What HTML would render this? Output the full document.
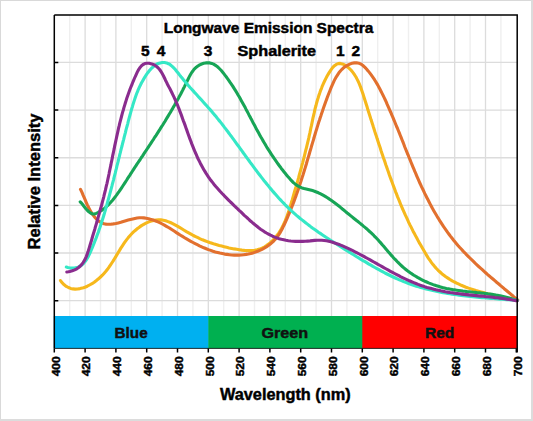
<!DOCTYPE html><html><head><meta charset="utf-8"><style>html,body{margin:0;padding:0;background:#fff;}body{width:533px;height:421px;overflow:hidden;position:relative;}svg{position:absolute;left:0;top:0;}</style></head><body>
<svg width="533" height="421" viewBox="0 0 533 421" font-family="Liberation Sans, sans-serif" font-weight="bold">
<style>text{stroke:currentColor;stroke-width:0.45px;}</style>
<rect x="0" y="0" width="533" height="421" fill="#fff"/>
<rect x="0.5" y="0.5" width="531" height="419" fill="none" stroke="#d9d9d9" stroke-width="1"/>
<rect x="531" y="0" width="2" height="421" fill="#dcdcdc"/><rect x="0" y="419" width="533" height="2" fill="#dcdcdc"/>
<path d="M69.70,15.0V316M100.50,15.0V316M131.30,15.0V316M162.10,15.0V316M192.90,15.0V316M223.70,15.0V316M254.50,15.0V316M285.30,15.0V316M316.10,15.0V316M346.90,15.0V316M377.70,15.0V316M408.50,15.0V316M439.30,15.0V316M470.10,15.0V316M500.90,15.0V316" stroke="#efefef" stroke-width="1.4" fill="none"/>
<path d="M85.10,15.0V316M115.90,15.0V316M146.70,15.0V316M177.50,15.0V316M208.30,15.0V316M239.10,15.0V316M269.90,15.0V316M300.70,15.0V316M331.50,15.0V316M362.30,15.0V316M393.10,15.0V316M423.90,15.0V316M454.70,15.0V316M485.50,15.0V316M54.3,300.66H517.2M54.3,253.02H517.2M54.3,205.38H517.2M54.3,157.74H517.2M54.3,110.10H517.2M54.3,62.46H517.2" stroke="#dcdcdc" stroke-width="1.3" fill="none"/>
<rect x="53.80" y="316" width="155.00" height="32.4" fill="#00b0f0"/>
<rect x="208.30" y="316" width="155.00" height="32.4" fill="#00b050"/>
<rect x="362.30" y="316" width="154.90" height="32.4" fill="#ff0000"/>
<path d="M60.5,280.6L61.4,281.8L62.3,282.9L64.2,284.8L66.3,286.4L68.4,287.5L70.6,288.4L72.9,288.9L75.2,289.1L77.6,289.0L80.0,288.6L82.4,288.1L84.9,287.2L87.3,286.2L89.6,285.0L92.0,283.7L94.2,282.2L96.4,280.5L98.5,278.8L100.5,277.0L102.4,275.2L104.2,273.2L105.9,271.3L107.5,269.3L109.0,267.2L110.4,265.1L111.8,263.0L113.2,260.9L114.5,258.7L115.8,256.6L117.1,254.4L118.4,252.2L119.7,250.1L121.0,247.9L122.4,245.8L123.8,243.7L125.2,241.6L126.7,239.6L128.3,237.6L129.9,235.7L131.7,233.8L133.5,231.9L135.5,230.2L137.5,228.5L139.7,226.9L141.9,225.4L144.2,224.1L146.5,222.9L148.9,221.9L151.3,221.1L153.7,220.4L156.1,220.0L158.5,219.8L160.9,219.9L163.3,220.2L165.7,220.8L168.0,221.6L170.4,222.5L172.7,223.6L175.0,224.8L177.3,226.1L179.5,227.4L181.8,228.8L184.1,230.2L186.4,231.6L188.7,232.9L191.0,234.2L193.3,235.5L195.6,236.6L197.9,237.7L200.2,238.8L202.5,239.8L204.9,240.7L207.2,241.6L209.6,242.5L212.0,243.3L214.4,244.1L216.8,244.8L219.2,245.5L221.7,246.1L224.1,246.7L226.6,247.3L229.1,247.9L231.6,248.4L234.2,248.9L236.7,249.3L239.3,249.7L241.9,250.1L244.5,250.4L247.1,250.6L249.7,250.6L252.2,250.5L254.7,250.3L257.2,249.8L259.6,249.1L262.0,248.2L264.3,247.0L266.5,245.6L268.6,244.1L270.6,242.4L272.5,240.6L274.3,238.8L275.9,236.8L277.5,234.8L278.9,232.8L280.3,230.7L281.5,228.5L282.7,226.3L283.8,224.0L284.9,221.7L285.8,219.3L286.8,216.9L287.6,214.5L288.5,212.1L289.3,209.6L290.1,207.1L290.8,204.6L291.5,202.1L292.3,199.7L293.0,197.2L293.7,194.7L294.4,192.2L295.1,189.7L295.9,187.2L296.6,184.8L297.3,182.3L298.0,179.8L298.7,177.4L299.3,174.9L300.0,172.4L300.7,170.0L301.4,167.5L302.0,165.0L302.7,162.6L303.3,160.1L304.0,157.6L304.6,155.2L305.2,152.7L305.8,150.2L306.4,147.8L307.0,145.3L307.6,142.8L308.2,140.3L308.8,137.9L309.3,135.4L309.9,132.9L310.4,130.4L310.9,127.9L311.5,125.4L312.0,122.9L312.5,120.4L313.0,117.9L313.6,115.4L314.2,112.9L314.7,110.4L315.3,107.9L316.0,105.5L316.6,103.0L317.3,100.5L318.1,98.0L318.8,95.6L319.7,93.1L320.5,90.7L321.5,88.3L322.4,85.8L323.5,83.4L324.6,81.0L325.8,78.6L327.0,76.3L328.4,73.9L329.8,71.6L331.3,69.4L332.8,67.4L334.5,65.7L336.3,64.4L338.2,63.6L340.2,63.4L342.3,63.9L344.5,64.9L346.5,66.2L348.5,67.7L350.2,69.3L351.9,71.1L353.4,73.1L354.8,75.2L356.1,77.3L357.3,79.6L358.5,82.0L359.5,84.4L360.5,86.9L361.4,89.4L362.3,92.0L363.2,94.6L364.0,97.2L364.8,99.7L365.6,102.3L366.4,104.8L367.2,107.3L367.9,109.8L368.7,112.3L369.5,114.7L370.3,117.2L371.0,119.6L371.8,122.0L372.6,124.4L373.3,126.8L374.1,129.2L374.8,131.5L375.6,133.9L376.4,136.3L377.1,138.6L377.9,141.0L378.7,143.4L379.5,145.7L380.3,148.1L381.0,150.5L381.8,152.9L382.6,155.3L383.4,157.7L384.3,160.1L385.1,162.5L385.9,165.0L386.8,167.4L387.6,169.8L388.5,172.3L389.3,174.7L390.2,177.2L391.1,179.6L392.0,182.0L392.9,184.5L393.8,186.9L394.7,189.3L395.6,191.8L396.6,194.2L397.5,196.6L398.5,199.0L399.5,201.4L400.4,203.7L401.4,206.1L402.4,208.5L403.5,210.8L404.5,213.1L405.5,215.4L406.6,217.7L407.7,220.0L408.7,222.3L409.8,224.6L411.0,226.9L412.1,229.1L413.2,231.4L414.4,233.6L415.6,235.9L416.8,238.1L418.0,240.4L419.2,242.6L420.5,244.8L421.8,247.1L423.1,249.3L424.4,251.6L425.7,253.8L427.1,256.1L428.5,258.3L430.0,260.4L431.5,262.6L433.0,264.6L434.7,266.6L436.4,268.5L438.1,270.3L440.0,272.0L441.8,273.7L443.8,275.2L445.8,276.7L447.9,278.1L450.0,279.5L452.2,280.8L454.4,282.0L456.6,283.1L458.9,284.2L461.3,285.3L463.6,286.2L466.0,287.2L468.5,288.1L470.9,288.9L473.4,289.7L475.9,290.5L478.4,291.2L480.9,291.9L483.4,292.6L485.9,293.3L488.5,293.9L491.0,294.5L493.5,295.1L496.0,295.7L498.6,296.3L501.1,296.9L503.5,297.4L506.0,298.0L508.5,298.6L510.9,299.2L513.3,299.7L515.7,300.3L516.8,300.6" stroke="#f6b81c" stroke-width="3.1" fill="none" stroke-linejoin="round" stroke-linecap="round"/>
<path d="M80.5,189.3L81.4,191.2L82.3,193.2L83.2,195.4L84.2,197.6L85.2,199.9L86.2,202.3L87.2,204.6L88.4,207.0L89.5,209.3L90.8,211.5L92.1,213.6L93.5,215.6L95.0,217.5L96.6,219.2L98.3,220.7L100.1,221.9L102.0,223.0L104.0,223.7L106.2,224.1L108.5,224.3L110.8,224.2L113.3,223.9L115.8,223.5L118.3,222.9L120.8,222.3L123.3,221.5L125.8,220.8L128.2,220.1L130.5,219.4L132.7,218.9L134.9,218.4L137.1,218.0L139.3,217.8L141.5,217.8L143.8,217.9L146.2,218.3L148.6,218.7L151.0,219.4L153.4,220.1L155.7,221.0L158.0,221.9L160.2,222.9L162.3,224.0L164.4,225.1L166.4,226.3L168.5,227.5L170.5,228.7L172.5,230.0L174.5,231.3L176.4,232.6L178.4,233.9L180.5,235.2L182.5,236.4L184.6,237.7L186.6,238.9L188.7,240.1L190.8,241.3L193.0,242.5L195.1,243.6L197.3,244.7L199.5,245.8L201.7,246.8L203.9,247.8L206.2,248.7L208.4,249.6L210.7,250.4L213.0,251.2L215.3,251.9L217.6,252.5L219.9,253.1L222.3,253.6L224.6,254.1L227.0,254.4L229.4,254.7L231.8,255.0L234.2,255.1L236.6,255.1L238.9,255.1L241.3,255.0L243.7,254.7L246.1,254.4L248.4,254.0L250.7,253.5L253.1,252.9L255.3,252.1L257.6,251.3L259.8,250.3L262.0,249.3L264.2,248.1L266.3,246.9L268.3,245.5L270.3,244.0L272.2,242.4L273.9,240.8L275.6,239.0L277.1,237.1L278.5,235.2L279.8,233.2L281.0,231.1L282.1,229.0L283.1,226.9L284.2,224.7L285.2,222.6L286.2,220.4L287.2,218.2L288.1,215.9L289.1,213.7L290.0,211.5L290.9,209.2L291.8,207.0L292.7,204.7L293.6,202.5L294.4,200.2L295.2,197.9L296.1,195.6L296.9,193.3L297.7,191.0L298.5,188.7L299.2,186.4L300.0,184.1L300.8,181.8L301.5,179.5L302.2,177.2L303.0,174.9L303.7,172.6L304.4,170.3L305.1,168.1L305.8,165.8L306.5,163.5L307.1,161.2L307.8,158.9L308.5,156.6L309.2,154.3L309.8,152.0L310.5,149.7L311.2,147.4L311.8,145.2L312.5,142.9L313.2,140.6L313.9,138.3L314.5,136.0L315.2,133.7L315.9,131.4L316.6,129.2L317.3,126.9L318.0,124.6L318.7,122.3L319.5,120.0L320.2,117.7L321.0,115.4L321.7,113.2L322.5,110.9L323.3,108.6L324.1,106.3L324.9,104.0L325.7,101.7L326.6,99.4L327.4,97.1L328.3,94.8L329.2,92.5L330.1,90.2L331.0,87.9L332.0,85.6L333.0,83.4L334.0,81.1L335.1,78.9L336.3,76.8L337.6,74.8L338.9,72.8L340.4,71.0L342.0,69.3L343.7,67.7L345.6,66.3L347.6,65.1L349.8,64.1L352.0,63.3L354.3,62.9L356.6,62.8L358.8,63.2L360.9,64.1L362.9,65.5L364.7,67.1L366.5,69.0L368.1,70.9L369.7,72.9L371.2,74.9L372.6,76.9L374.0,78.9L375.3,81.0L376.6,83.1L377.8,85.1L378.9,87.2L380.0,89.3L381.1,91.5L382.2,93.6L383.2,95.7L384.3,97.9L385.3,100.0L386.3,102.2L387.2,104.4L388.2,106.6L389.2,108.8L390.1,111.0L391.1,113.2L392.0,115.4L393.0,117.6L393.9,119.8L394.8,122.0L395.7,124.3L396.6,126.5L397.6,128.7L398.5,131.0L399.4,133.2L400.3,135.5L401.2,137.7L402.1,140.0L403.0,142.2L403.9,144.5L404.7,146.7L405.6,149.0L406.5,151.2L407.4,153.5L408.4,155.7L409.3,158.0L410.2,160.2L411.1,162.5L412.0,164.7L412.9,166.9L413.9,169.2L414.8,171.4L415.8,173.6L416.7,175.8L417.7,178.1L418.7,180.3L419.6,182.5L420.6,184.7L421.6,186.9L422.7,189.0L423.7,191.2L424.7,193.4L425.8,195.5L426.9,197.7L428.0,199.8L429.1,202.0L430.2,204.1L431.3,206.2L432.4,208.3L433.6,210.4L434.8,212.5L436.0,214.5L437.2,216.6L438.5,218.6L439.7,220.7L441.0,222.7L442.3,224.7L443.6,226.7L445.0,228.6L446.4,230.6L447.8,232.6L449.2,234.5L450.6,236.4L452.1,238.3L453.6,240.2L455.1,242.0L456.7,243.9L458.2,245.7L459.8,247.5L461.5,249.3L463.1,251.1L464.8,252.8L466.5,254.6L468.2,256.3L469.9,258.0L471.6,259.7L473.4,261.4L475.1,263.1L476.9,264.8L478.7,266.5L480.5,268.1L482.3,269.7L484.1,271.4L485.9,273.0L487.7,274.6L489.6,276.2L491.4,277.8L493.2,279.3L495.1,280.9L496.9,282.5L498.8,284.0L500.6,285.6L502.4,287.1L504.2,288.7L506.1,290.2L507.9,291.7L509.7,293.2L511.5,294.8L513.3,296.3L515.0,297.8L516.8,299.3L517.7,300.0" stroke="#e2702e" stroke-width="3.1" fill="none" stroke-linejoin="round" stroke-linecap="round"/>
<path d="M80.2,201.8L81.5,203.1L82.8,204.8L84.3,206.7L85.9,208.7L87.5,210.5L89.2,212.1L90.9,213.3L92.7,214.0L94.4,214.0L96.2,213.4L97.9,212.6L99.5,211.7L101.1,210.7L102.7,209.6L104.3,208.4L105.8,207.2L107.2,205.9L108.7,204.5L110.1,203.0L111.4,201.5L112.8,199.9L114.1,198.3L115.4,196.6L116.7,194.9L117.9,193.2L119.2,191.4L120.4,189.6L121.6,187.8L122.8,186.0L124.0,184.2L125.2,182.3L126.4,180.5L127.5,178.7L128.7,176.9L129.9,175.1L131.0,173.3L132.2,171.5L133.4,169.7L134.5,167.9L135.7,166.2L136.8,164.4L138.0,162.7L139.1,161.0L140.3,159.3L141.4,157.5L142.6,155.8L143.7,154.1L144.8,152.4L146.0,150.7L147.1,149.0L148.2,147.3L149.3,145.6L150.5,143.9L151.6,142.2L152.7,140.5L153.8,138.8L154.9,137.0L156.1,135.3L157.2,133.6L158.3,131.9L159.4,130.2L160.5,128.4L161.6,126.7L162.7,125.0L163.8,123.2L164.9,121.5L165.9,119.7L167.0,117.9L168.1,116.1L169.2,114.3L170.3,112.5L171.3,110.7L172.4,108.9L173.4,107.1L174.5,105.3L175.5,103.4L176.6,101.6L177.6,99.7L178.6,97.9L179.6,96.0L180.6,94.2L181.6,92.3L182.6,90.4L183.5,88.5L184.5,86.6L185.4,84.7L186.4,82.8L187.3,80.9L188.2,79.0L189.1,77.1L190.1,75.2L191.1,73.5L192.3,71.7L193.5,70.1L194.8,68.6L196.3,67.2L197.9,66.0L199.7,64.9L201.7,64.0L203.7,63.3L205.8,62.9L207.9,62.8L209.8,62.9L211.7,63.4L213.5,64.1L215.2,65.1L216.8,66.2L218.3,67.5L219.8,69.0L221.3,70.5L222.7,72.2L224.0,73.9L225.3,75.6L226.6,77.3L227.9,79.1L229.1,80.8L230.3,82.6L231.5,84.3L232.7,86.1L233.8,87.9L234.9,89.7L236.0,91.4L237.1,93.2L238.1,95.0L239.2,96.8L240.2,98.6L241.2,100.4L242.2,102.2L243.2,104.0L244.2,105.8L245.2,107.6L246.1,109.4L247.1,111.2L248.1,113.1L249.0,114.9L250.0,116.7L250.9,118.5L251.9,120.3L252.8,122.2L253.8,124.0L254.8,125.8L255.7,127.6L256.7,129.5L257.7,131.3L258.7,133.1L259.7,134.9L260.7,136.7L261.8,138.5L262.8,140.4L263.9,142.2L265.0,144.0L266.0,145.8L267.1,147.6L268.2,149.3L269.4,151.1L270.5,152.9L271.6,154.7L272.8,156.4L274.0,158.2L275.2,159.9L276.4,161.6L277.6,163.3L278.8,165.0L280.1,166.7L281.3,168.4L282.6,170.0L283.9,171.7L285.2,173.3L286.5,174.9L287.8,176.5L289.2,178.1L290.5,179.6L292.0,181.1L293.4,182.6L295.0,183.9L296.6,185.1L298.3,186.2L300.1,187.1L302.0,187.9L304.1,188.5L306.2,189.0L308.3,189.5L310.4,190.0L312.5,190.6L314.5,191.2L316.4,192.0L318.4,192.8L320.2,193.7L322.1,194.7L323.9,195.7L325.6,196.7L327.4,197.8L329.1,198.9L330.8,200.1L332.5,201.3L334.2,202.5L335.9,203.8L337.5,205.0L339.2,206.3L340.8,207.6L342.4,209.0L344.0,210.3L345.6,211.6L347.2,213.0L348.9,214.3L350.5,215.6L352.1,216.9L353.7,218.2L355.3,219.5L356.9,220.8L358.6,222.1L360.2,223.4L361.8,224.7L363.4,226.1L365.0,227.4L366.6,228.7L368.1,230.1L369.6,231.5L371.2,232.9L372.7,234.3L374.1,235.8L375.6,237.3L377.0,238.8L378.4,240.3L379.8,241.9L381.2,243.4L382.5,245.0L383.9,246.6L385.3,248.2L386.6,249.8L388.0,251.4L389.4,253.0L390.7,254.6L392.1,256.1L393.5,257.7L394.9,259.2L396.4,260.7L397.8,262.2L399.3,263.7L400.8,265.1L402.3,266.5L403.9,267.9L405.5,269.2L407.1,270.5L408.8,271.7L410.5,272.9L412.2,274.1L413.9,275.2L415.7,276.3L417.5,277.4L419.3,278.4L421.1,279.4L422.9,280.3L424.8,281.2L426.7,282.0L428.6,282.9L430.5,283.6L432.5,284.4L434.4,285.1L436.4,285.7L438.4,286.3L440.4,286.9L442.4,287.5L444.4,287.9L446.4,288.4L448.5,288.8L450.5,289.2L452.5,289.6L454.6,289.9L456.7,290.2L458.7,290.5L460.8,290.8L462.9,291.1L464.9,291.3L467.0,291.6L469.1,291.8L471.2,292.0L473.3,292.2L475.4,292.4L477.5,292.7L479.5,292.9L481.6,293.1L483.7,293.3L485.8,293.6L487.9,293.9L489.9,294.1L492.0,294.4L494.1,294.7L496.1,295.1L498.2,295.4L500.2,295.8L502.2,296.2L504.3,296.7L506.3,297.2L508.3,297.7L510.3,298.3L512.3,298.9L514.2,299.5L516.2,300.3L517.2,300.6" stroke="#17a556" stroke-width="3.1" fill="none" stroke-linejoin="round" stroke-linecap="round"/>
<path d="M66.3,267.1L67.8,267.5L69.3,267.8L72.0,268.1L74.4,268.0L76.6,267.6L78.7,266.9L80.5,265.9L82.2,264.7L83.7,263.3L85.1,261.6L86.4,259.8L87.5,257.9L88.6,255.9L89.6,253.8L90.6,251.7L91.5,249.5L92.4,247.3L93.3,245.2L94.2,243.0L95.0,240.8L95.9,238.7L96.7,236.5L97.5,234.3L98.3,232.2L99.0,230.0L99.8,227.8L100.5,225.7L101.2,223.5L101.9,221.3L102.6,219.2L103.3,217.0L104.0,214.8L104.6,212.6L105.3,210.4L105.9,208.2L106.5,206.1L107.1,203.9L107.7,201.7L108.3,199.5L108.9,197.3L109.5,195.1L110.1,192.9L110.7,190.7L111.3,188.4L111.9,186.2L112.4,184.0L113.0,181.8L113.6,179.6L114.1,177.3L114.7,175.1L115.3,172.9L115.8,170.6L116.4,168.4L116.9,166.1L117.5,163.9L118.1,161.7L118.6,159.4L119.2,157.2L119.7,154.9L120.3,152.7L120.8,150.5L121.4,148.2L122.0,146.0L122.5,143.8L123.1,141.5L123.7,139.3L124.2,137.1L124.8,134.9L125.4,132.6L125.9,130.4L126.5,128.2L127.1,126.0L127.7,123.8L128.2,121.6L128.8,119.4L129.4,117.2L130.0,115.0L130.6,112.9L131.2,110.7L131.8,108.5L132.5,106.4L133.1,104.2L133.8,102.1L134.5,99.9L135.2,97.8L135.9,95.7L136.7,93.5L137.6,91.4L138.4,89.3L139.4,87.2L140.4,85.1L141.4,83.0L142.6,80.9L143.8,78.9L145.0,76.8L146.4,74.7L147.8,72.7L149.3,70.8L150.9,68.9L152.6,67.3L154.4,65.8L156.2,64.5L158.2,63.5L160.2,62.9L162.3,62.5L164.5,62.5L166.5,62.9L168.4,63.7L170.2,64.7L171.9,66.1L173.5,67.6L175.1,69.3L176.6,71.2L178.1,73.0L179.5,74.9L181.0,76.8L182.5,78.6L184.0,80.4L185.6,82.2L187.1,84.0L188.6,85.8L190.1,87.5L191.7,89.2L193.2,90.9L194.7,92.6L196.3,94.3L197.8,96.0L199.3,97.7L200.9,99.3L202.4,101.0L203.9,102.7L205.4,104.4L206.9,106.0L208.4,107.7L209.9,109.4L211.4,111.1L212.9,112.9L214.3,114.6L215.8,116.3L217.2,118.1L218.6,119.9L220.1,121.6L221.5,123.4L222.9,125.2L224.3,127.1L225.7,128.9L227.1,130.7L228.4,132.5L229.8,134.4L231.2,136.2L232.6,138.1L233.9,139.9L235.3,141.8L236.6,143.7L238.0,145.5L239.4,147.4L240.7,149.3L242.1,151.1L243.4,153.0L244.8,154.9L246.1,156.8L247.5,158.6L248.9,160.5L250.2,162.4L251.6,164.2L253.0,166.1L254.3,167.9L255.7,169.8L257.1,171.6L258.5,173.5L259.9,175.3L261.3,177.1L262.7,178.9L264.1,180.7L265.6,182.5L267.0,184.3L268.5,186.1L269.9,187.9L271.4,189.6L272.9,191.4L274.4,193.1L275.9,194.8L277.4,196.5L278.9,198.2L280.5,199.9L282.0,201.5L283.6,203.1L285.2,204.8L286.8,206.4L288.4,208.0L290.0,209.5L291.7,211.1L293.4,212.6L295.1,214.1L296.8,215.6L298.5,217.0L300.2,218.5L302.0,219.9L303.8,221.3L305.6,222.7L307.4,224.1L309.2,225.5L311.0,226.9L312.8,228.2L314.7,229.5L316.5,230.8L318.4,232.2L320.3,233.4L322.2,234.7L324.1,236.0L326.0,237.3L327.9,238.5L329.8,239.8L331.7,241.0L333.7,242.3L335.6,243.5L337.6,244.8L339.5,246.0L341.4,247.2L343.4,248.4L345.3,249.7L347.3,250.9L349.3,252.1L351.2,253.3L353.2,254.5L355.1,255.7L357.1,257.0L359.1,258.2L361.0,259.4L363.0,260.6L365.0,261.7L367.0,262.9L368.9,264.1L370.9,265.2L372.9,266.4L374.9,267.5L376.9,268.6L378.9,269.7L381.0,270.8L383.0,271.9L385.0,273.0L387.0,274.0L389.1,275.0L391.1,276.0L393.2,277.0L395.3,278.0L397.3,278.9L399.4,279.8L401.5,280.7L403.6,281.6L405.7,282.4L407.9,283.2L410.0,284.0L412.1,284.7L414.3,285.5L416.4,286.2L418.6,286.8L420.8,287.5L423.0,288.1L425.2,288.7L427.4,289.3L429.6,289.8L431.8,290.3L434.1,290.8L436.3,291.3L438.6,291.8L440.8,292.2L443.1,292.6L445.3,293.0L447.6,293.4L449.9,293.8L452.1,294.2L454.4,294.5L456.7,294.8L459.0,295.1L461.3,295.4L463.6,295.7L465.8,296.0L468.1,296.2L470.4,296.5L472.7,296.7L475.0,297.0L477.3,297.2L479.6,297.4L481.9,297.6L484.2,297.8L486.5,298.0L488.8,298.2L491.1,298.4L493.4,298.5L495.7,298.7L497.9,298.9L500.2,299.1L502.5,299.3L504.8,299.4L507.0,299.6L509.3,299.8L511.5,300.0L513.8,300.1L516.0,300.3L517.2,300.4" stroke="#35e8c6" stroke-width="3.1" fill="none" stroke-linejoin="round" stroke-linecap="round"/>
<path d="M66.8,272.0L68.3,271.8L69.7,271.5L72.3,270.8L74.7,269.9L76.8,268.8L78.6,267.5L80.3,266.0L81.8,264.4L83.1,262.6L84.3,260.7L85.3,258.7L86.3,256.6L87.1,254.4L87.9,252.1L88.6,249.9L89.3,247.6L90.0,245.3L90.7,243.0L91.4,240.7L92.1,238.3L92.7,236.0L93.4,233.7L94.1,231.5L94.8,229.2L95.4,226.9L96.1,224.6L96.8,222.3L97.4,220.0L98.1,217.7L98.7,215.4L99.4,213.1L100.0,210.8L100.6,208.5L101.3,206.3L101.9,204.0L102.5,201.7L103.1,199.4L103.7,197.1L104.2,194.8L104.8,192.5L105.4,190.2L105.9,187.9L106.4,185.6L107.0,183.3L107.5,181.0L108.0,178.7L108.5,176.4L109.0,174.1L109.4,171.8L109.9,169.5L110.4,167.2L110.9,164.9L111.3,162.6L111.8,160.3L112.3,157.9L112.7,155.6L113.2,153.3L113.7,151.0L114.2,148.7L114.6,146.4L115.1,144.1L115.6,141.8L116.1,139.5L116.6,137.2L117.1,134.9L117.6,132.6L118.1,130.3L118.6,128.0L119.2,125.7L119.7,123.4L120.3,121.1L120.9,118.8L121.5,116.5L122.1,114.2L122.7,111.9L123.4,109.7L124.0,107.4L124.7,105.1L125.4,102.8L126.1,100.6L126.8,98.3L127.6,96.0L128.4,93.8L129.2,91.5L130.0,89.3L130.9,87.0L131.8,84.8L132.7,82.5L133.6,80.3L134.6,78.0L135.6,75.8L136.6,73.6L137.6,71.4L138.8,69.3L140.1,67.4L141.5,65.8L143.1,64.5L144.9,63.6L146.9,63.2L149.2,63.3L151.7,63.9L154.0,64.8L156.1,66.1L158.0,67.7L159.6,69.5L161.0,71.5L162.2,73.6L163.4,75.8L164.5,78.0L165.5,80.2L166.6,82.4L167.6,84.5L168.7,86.6L169.8,88.6L170.9,90.7L171.9,92.7L172.9,94.8L173.9,96.9L174.9,99.1L175.8,101.2L176.8,103.4L177.7,105.5L178.5,107.7L179.4,109.9L180.2,112.2L181.1,114.4L181.9,116.6L182.7,118.9L183.5,121.1L184.4,123.4L185.2,125.6L186.0,127.9L186.8,130.1L187.6,132.4L188.4,134.7L189.2,136.9L190.0,139.2L190.9,141.4L191.7,143.6L192.6,145.9L193.5,148.1L194.4,150.3L195.3,152.5L196.3,154.7L197.2,156.8L198.2,159.0L199.3,161.1L200.3,163.2L201.4,165.3L202.5,167.3L203.7,169.4L204.9,171.4L206.1,173.4L207.4,175.3L208.7,177.3L210.0,179.2L211.4,181.0L212.9,182.9L214.3,184.7L215.8,186.5L217.4,188.3L218.9,190.0L220.5,191.8L222.1,193.5L223.8,195.2L225.4,196.9L227.1,198.6L228.8,200.3L230.5,202.0L232.2,203.6L233.9,205.3L235.6,207.0L237.4,208.6L239.1,210.3L240.9,211.9L242.6,213.6L244.3,215.3L246.1,216.9L247.9,218.5L249.6,220.2L251.4,221.7L253.2,223.3L255.0,224.8L256.9,226.3L258.7,227.8L260.6,229.2L262.6,230.5L264.5,231.8L266.5,233.0L268.5,234.1L270.5,235.2L272.6,236.2L274.8,237.1L276.9,237.9L279.1,238.7L281.4,239.3L283.7,239.8L286.0,240.3L288.4,240.7L290.8,241.0L293.2,241.2L295.6,241.4L298.0,241.4L300.4,241.4L302.8,241.4L305.3,241.3L307.7,241.1L310.1,240.9L312.4,240.6L314.8,240.4L317.2,240.2L319.5,240.2L321.8,240.3L324.1,240.5L326.4,240.8L328.7,241.3L330.9,241.8L333.2,242.5L335.4,243.2L337.6,244.0L339.9,244.8L342.0,245.7L344.2,246.7L346.4,247.7L348.6,248.7L350.7,249.7L352.8,250.7L355.0,251.8L357.1,252.9L359.2,254.0L361.3,255.1L363.4,256.2L365.5,257.4L367.6,258.5L369.7,259.7L371.8,260.9L373.8,262.0L375.9,263.2L378.0,264.4L380.1,265.5L382.1,266.7L384.2,267.9L386.3,269.0L388.4,270.2L390.4,271.3L392.5,272.4L394.6,273.5L396.7,274.6L398.8,275.7L400.9,276.8L403.0,277.8L405.2,278.8L407.3,279.8L409.4,280.8L411.6,281.7L413.7,282.6L415.9,283.5L418.1,284.4L420.3,285.2L422.5,285.9L424.7,286.7L427.0,287.4L429.2,288.0L431.5,288.6L433.8,289.2L436.0,289.8L438.3,290.3L440.7,290.8L443.0,291.2L445.3,291.7L447.7,292.1L450.0,292.5L452.4,292.8L454.7,293.2L457.1,293.5L459.5,293.8L461.8,294.1L464.2,294.4L466.6,294.6L469.0,294.9L471.4,295.1L473.8,295.4L476.1,295.6L478.5,295.9L480.9,296.1L483.3,296.3L485.7,296.6L488.0,296.8L490.4,297.0L492.8,297.3L495.1,297.6L497.5,297.8L499.8,298.1L502.1,298.4L504.5,298.7L506.8,299.1L509.1,299.4L511.4,299.8L513.7,300.2L515.9,300.6L517.1,300.8" stroke="#8a2c8e" stroke-width="3.1" fill="none" stroke-linejoin="round" stroke-linecap="round"/>
<path d="M54.3,15.0V348.4M54.3,15.0H517.2V352.5" stroke="#000" stroke-width="1.5" fill="none"/>
<path d="M54.3,348.4H517.2" stroke="#000" stroke-width="0.8" fill="none"/>
<path d="M54.3,300.66h4M54.3,253.02h4M54.3,205.38h4M54.3,157.74h4M54.3,110.10h4M54.3,62.46h4M54.30,348.4v4.2M85.10,348.4v4.2M115.90,348.4v4.2M146.70,348.4v4.2M177.50,348.4v4.2M208.30,348.4v4.2M239.10,348.4v4.2M269.90,348.4v4.2M300.70,348.4v4.2M331.50,348.4v4.2M362.30,348.4v4.2M393.10,348.4v4.2M423.90,348.4v4.2M454.70,348.4v4.2M485.50,348.4v4.2M516.30,348.4v4.2" stroke="#000" stroke-width="1.5" fill="none"/>
<text x="163.8" y="32.8" font-size="15.0" text-anchor="start" textLength="209.5" lengthAdjust="spacingAndGlyphs">Longwave Emission Spectra</text>
<text x="237.5" y="56.0" font-size="14.5" text-anchor="start" textLength="78.5" lengthAdjust="spacingAndGlyphs">Sphalerite</text>
<text x="141.1" y="56.0" font-size="15.5" text-anchor="start">5</text>
<text x="156.7" y="56.0" font-size="15.5" text-anchor="start">4</text>
<text x="203.7" y="56.0" font-size="15.5" text-anchor="start">3</text>
<text x="336.0" y="56.0" font-size="15.5" text-anchor="start">1</text>
<text x="351.4" y="56.0" font-size="15.5" text-anchor="start">2</text>
<text x="114.6" y="338.0" font-size="14.5" text-anchor="start" textLength="33.1" lengthAdjust="spacingAndGlyphs" fill="#111" color="#111">Blue</text>
<text x="261.4" y="338.0" font-size="14.5" text-anchor="start" textLength="46.8" lengthAdjust="spacingAndGlyphs" fill="#111" color="#111">Green</text>
<text x="425.0" y="338.0" font-size="14.5" text-anchor="start" textLength="29.3" lengthAdjust="spacingAndGlyphs" fill="#111" color="#111">Red</text>
<text x="219.9" y="400.2" font-size="16.3" text-anchor="start" textLength="130.8" lengthAdjust="spacingAndGlyphs">Wavelength (nm)</text>
<text transform="translate(39.5,249.5) rotate(-90)" x="0" y="0" font-size="16.3" textLength="136" lengthAdjust="spacingAndGlyphs">Relative Intensity</text>
<text transform="translate(54.30,356.3) rotate(-90)" x="0" y="0" font-size="11.8" text-anchor="end" dy="5.3" textLength="20" lengthAdjust="spacingAndGlyphs">400</text>
<text transform="translate(85.10,356.3) rotate(-90)" x="0" y="0" font-size="11.8" text-anchor="end" dy="5.3" textLength="20" lengthAdjust="spacingAndGlyphs">420</text>
<text transform="translate(115.90,356.3) rotate(-90)" x="0" y="0" font-size="11.8" text-anchor="end" dy="5.3" textLength="20" lengthAdjust="spacingAndGlyphs">440</text>
<text transform="translate(146.70,356.3) rotate(-90)" x="0" y="0" font-size="11.8" text-anchor="end" dy="5.3" textLength="20" lengthAdjust="spacingAndGlyphs">460</text>
<text transform="translate(177.50,356.3) rotate(-90)" x="0" y="0" font-size="11.8" text-anchor="end" dy="5.3" textLength="20" lengthAdjust="spacingAndGlyphs">480</text>
<text transform="translate(208.30,356.3) rotate(-90)" x="0" y="0" font-size="11.8" text-anchor="end" dy="5.3" textLength="20" lengthAdjust="spacingAndGlyphs">500</text>
<text transform="translate(239.10,356.3) rotate(-90)" x="0" y="0" font-size="11.8" text-anchor="end" dy="5.3" textLength="20" lengthAdjust="spacingAndGlyphs">520</text>
<text transform="translate(269.90,356.3) rotate(-90)" x="0" y="0" font-size="11.8" text-anchor="end" dy="5.3" textLength="20" lengthAdjust="spacingAndGlyphs">540</text>
<text transform="translate(300.70,356.3) rotate(-90)" x="0" y="0" font-size="11.8" text-anchor="end" dy="5.3" textLength="20" lengthAdjust="spacingAndGlyphs">560</text>
<text transform="translate(331.50,356.3) rotate(-90)" x="0" y="0" font-size="11.8" text-anchor="end" dy="5.3" textLength="20" lengthAdjust="spacingAndGlyphs">580</text>
<text transform="translate(362.30,356.3) rotate(-90)" x="0" y="0" font-size="11.8" text-anchor="end" dy="5.3" textLength="20" lengthAdjust="spacingAndGlyphs">600</text>
<text transform="translate(393.10,356.3) rotate(-90)" x="0" y="0" font-size="11.8" text-anchor="end" dy="5.3" textLength="20" lengthAdjust="spacingAndGlyphs">620</text>
<text transform="translate(423.90,356.3) rotate(-90)" x="0" y="0" font-size="11.8" text-anchor="end" dy="5.3" textLength="20" lengthAdjust="spacingAndGlyphs">640</text>
<text transform="translate(454.70,356.3) rotate(-90)" x="0" y="0" font-size="11.8" text-anchor="end" dy="5.3" textLength="20" lengthAdjust="spacingAndGlyphs">660</text>
<text transform="translate(485.50,356.3) rotate(-90)" x="0" y="0" font-size="11.8" text-anchor="end" dy="5.3" textLength="20" lengthAdjust="spacingAndGlyphs">680</text>
<text transform="translate(516.30,356.3) rotate(-90)" x="0" y="0" font-size="11.8" text-anchor="end" dy="5.3" textLength="20" lengthAdjust="spacingAndGlyphs">700</text>
</svg></body></html>
